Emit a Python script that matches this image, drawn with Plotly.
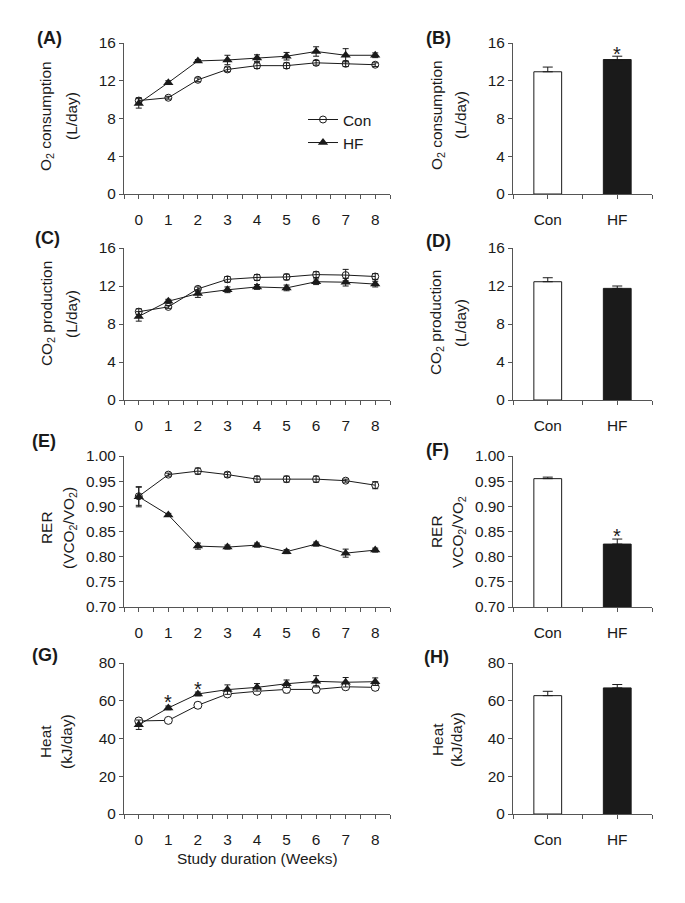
import plotly.graph_objects as go

# ---- data ----
weeks = [0, 1, 2, 3, 4, 5, 6, 7, 8]
groups = ["Con", "HF"]

o2_con = [9.9, 10.2, 12.1, 13.2, 13.6, 13.6, 13.9, 13.8, 13.7]
o2_con_err = [0.3, 0.15, 0.2, 0.25, 0.3, 0.3, 0.25, 0.3, 0.2]
o2_hf = [9.6, 11.8, 14.1, 14.2, 14.4, 14.6, 15.1, 14.7, 14.7]
o2_hf_err = [0.5, 0.2, 0.15, 0.5, 0.35, 0.4, 0.5, 0.7, 0.25]

co2_con = [9.3, 9.8, 11.7, 12.7, 12.9, 12.95, 13.2, 13.15, 13.0]
co2_con_err = [0.3, 0.15, 0.2, 0.3, 0.3, 0.3, 0.3, 0.6, 0.3]
co2_hf = [8.8, 10.4, 11.2, 11.6, 11.9, 11.8, 12.45, 12.4, 12.2]
co2_hf_err = [0.5, 0.2, 0.4, 0.3, 0.25, 0.3, 0.3, 0.4, 0.3]

rer_con = [0.920, 0.963, 0.970, 0.963, 0.954, 0.954, 0.954, 0.951, 0.942]
rer_con_err = [0.018, 0.003, 0.006, 0.005, 0.006, 0.006, 0.006, 0.003, 0.007]
rer_hf = [0.919, 0.883, 0.821, 0.819, 0.823, 0.810, 0.825, 0.807, 0.813]
rer_hf_err = [0.02, 0.003, 0.006, 0.004, 0.004, 0.004, 0.004, 0.008, 0.004]

heat_con = [49.3, 49.6, 57.6, 63.6, 65.0, 66.0, 66.0, 67.4, 67.1]
heat_con_err = [1.5, 0.8, 1.5, 1.2, 1.5, 1.8, 1.8, 1.5, 1.5]
heat_hf = [47.3, 56.2, 63.6, 65.9, 67.1, 69.0, 70.3, 69.8, 70.1]
heat_hf_err = [2.5, 1.0, 1.0, 2.5, 2.0, 2.0, 3.0, 2.5, 2.0]

o2_bar = [12.95, 14.25]
o2_bar_err = [0.5, 0.35]
co2_bar = [12.45, 11.75]
co2_bar_err = [0.42, 0.25]
rer_bar = [0.955, 0.825]
rer_bar_err = [0.003, 0.01]
heat_bar = [62.7, 66.8]
heat_bar_err = [2.3, 1.8]

# ---- layout helpers (pixel positions) ----
W, H = 685, 903
FONT = "Liberation Sans, Arial, sans-serif"
FS = 15.4
INK = "#1a1a1a"
AXIS = "#555555"


def fx(p):
    return p / W


def fy(p):
    return 1 - p / H


rows = [(43, 194), (248, 400), (456, 607), (663, 814)]
left_col = (124, 390)
right_col = (513, 652)

line_data = [
    (o2_con, o2_con_err, o2_hf, o2_hf_err, [0, 16], 4, None),
    (co2_con, co2_con_err, co2_hf, co2_hf_err, [0, 16], 4, None),
    (rer_con, rer_con_err, rer_hf, rer_hf_err, [0.70, 1.00], 0.05, ".2f"),
    (heat_con, heat_con_err, heat_hf, heat_hf_err, [0, 80], 20, None),
]
bar_data = [
    (o2_bar, o2_bar_err),
    (co2_bar, co2_bar_err),
    (rer_bar, rer_bar_err),
    (heat_bar, heat_bar_err),
]

common = dict(showline=True, linecolor=AXIS, linewidth=1, ticks="outside",
              ticklen=4, tickcolor=AXIS, showgrid=False, zeroline=False,
              automargin=False,
              tickfont=dict(size=FS, color=INK, family=FONT))
minor = dict(ticks="outside", ticklen=4, tickcolor=AXIS, dtick=0.5, tick0=-0.5)

fig = go.Figure()
layout = {}

for r, (top, bot) in enumerate(rows):
    con, con_err, hf, hf_err, yrange, dtick, fmt = line_data[r]
    li = 2 * r + 1
    bi = 2 * r + 2
    ydom = [fy(bot), fy(top)]

    # line panel
    xa, ya = f"x{li}", f"y{li}"
    open_sym = "circle" if r == 3 else "circle-open"
    fig.add_trace(go.Scatter(
        x=weeks, y=con, name="Con", xaxis=xa, yaxis=ya, mode="lines+markers",
        showlegend=(r == 0), line=dict(color=INK, width=1),
        marker=dict(symbol=open_sym, size=8 if r == 3 else 7, color="white" if r == 3 else INK,
                    line=dict(color=INK, width=1)),
        error_y=dict(type="data", array=con_err, color=INK, thickness=1, width=3)))
    fig.add_trace(go.Scatter(
        x=weeks, y=hf, name="HF", xaxis=xa, yaxis=ya, mode="lines+markers",
        showlegend=(r == 0), line=dict(color=INK, width=1),
        marker=dict(symbol="triangle-up", size=9, color=INK),
        error_y=dict(type="data", array=hf_err, color=INK, thickness=1, width=3)))
    layout[f"xaxis{li}"] = dict(common, domain=[fx(left_col[0]), fx(left_col[1])],
                                anchor=ya, range=[-0.5, 8.5], tickmode="array",
                                tickvals=weeks, minor=minor, ticklabelstandoff=8)
    layout[f"yaxis{li}"] = dict(common, domain=ydom, anchor=xa, range=yrange,
                                dtick=dtick, tickformat=fmt)

    # bar panel
    vals, errs = bar_data[r]
    xb, yb = f"x{bi}", f"y{bi}"
    fig.add_trace(go.Bar(
        x=[0, 1], y=vals, xaxis=xb, yaxis=yb, width=0.4, showlegend=False,
        marker=dict(color=["white", INK], line=dict(color=INK, width=1)),
        error_y=dict(type="data", symmetric=False, array=errs, arrayminus=[0, 0],
                     color=INK, thickness=1, width=5)))
    layout[f"xaxis{bi}"] = dict(common, domain=[fx(right_col[0]), fx(right_col[1])],
                                anchor=yb, range=[-0.5, 1.5], tickmode="array",
                                tickvals=[0, 1], ticktext=groups, minor=minor,
                                ticklabelstandoff=8)
    layout[f"yaxis{bi}"] = dict(common, domain=ydom, anchor=xb, range=yrange,
                                dtick=dtick, tickformat=fmt)

ann = []

# panel letters
letters = [("(A)", 50, 38), ("(B)", 439, 38), ("(C)", 47, 238), ("(D)", 439, 241),
           ("(E)", 44, 441), ("(F)", 437, 450), ("(G)", 45, 655), ("(H)", 436, 657)]
for txt, x, y in letters:
    ann.append(dict(text=f"<b>{txt}</b>", x=fx(x), y=fy(y), xref="paper", yref="paper",
                    showarrow=False, xanchor="center", yanchor="middle",
                    font=dict(size=18, color=INK, family=FONT)))

# two-line y titles
ytitles = [
    ("O<sub>2</sub> consumption", 47, "(L/day)", 72, 116),
    ("O<sub>2</sub> consumption", 437, "(L/day)", 460, 115),
    ("CO<sub>2</sub> production", 47, "(L/day)", 71, 314),
    ("CO<sub>2</sub> production", 437, "(L/day)", 461, 323),
    ("RER", 46, "(VCO<sub>2</sub>/VO<sub>2</sub>)", 69, 528),
    ("RER", 436, "VCO<sub>2</sub>/VO<sub>2</sub>", 458, 532),
    ("Heat", 45, "(kJ/day)", 66, 742),
    ("Heat", 437, "(kJ/day)", 456, 740),
]
for t1, x1, t2, x2, yc in ytitles:
    for t, x in ((t1, x1), (t2, x2)):
        ann.append(dict(text=t, x=fx(x), y=fy(yc), xref="paper", yref="paper",
                        showarrow=False, textangle=-90, xanchor="center", yanchor="middle",
                        font=dict(size=FS, color=INK, family=FONT)))

# significance marks
stars = [("x2", "y2", 1, 14.85), ("x6", "y6", 1, 0.841), ("x7", "y7", 1, 59.3), ("x7", "y7", 2, 66.2)]
for xr, yr, x, y in stars:
    ann.append(dict(text="*", x=x, y=y, xref=xr, yref=yr, showarrow=False,
                    xanchor="center", yanchor="middle",
                    font=dict(size=20, color=INK, family=FONT)))

ann.append(dict(text="Study duration (Weeks)", x=fx(257), y=fy(858), xref="paper", yref="paper",
                showarrow=False, xanchor="center", yanchor="middle",
                font=dict(size=FS, color=INK, family=FONT)))

fig.update_layout(
    width=W, height=H, margin=dict(l=0, r=0, t=0, b=0, autoexpand=False),
    paper_bgcolor="white", plot_bgcolor="white",
    font=dict(family=FONT, size=FS, color=INK),
    annotations=ann,
    legend=dict(x=fx(303), y=fy(103), xanchor="left", yanchor="top",
                bgcolor="rgba(0,0,0,0)", font=dict(size=FS, color=INK), tracegroupgap=0),
    **layout,
)

fig.write_html("out.html", config={"displayModeBar": False},
               post_script="document.body.style.margin='0';")
